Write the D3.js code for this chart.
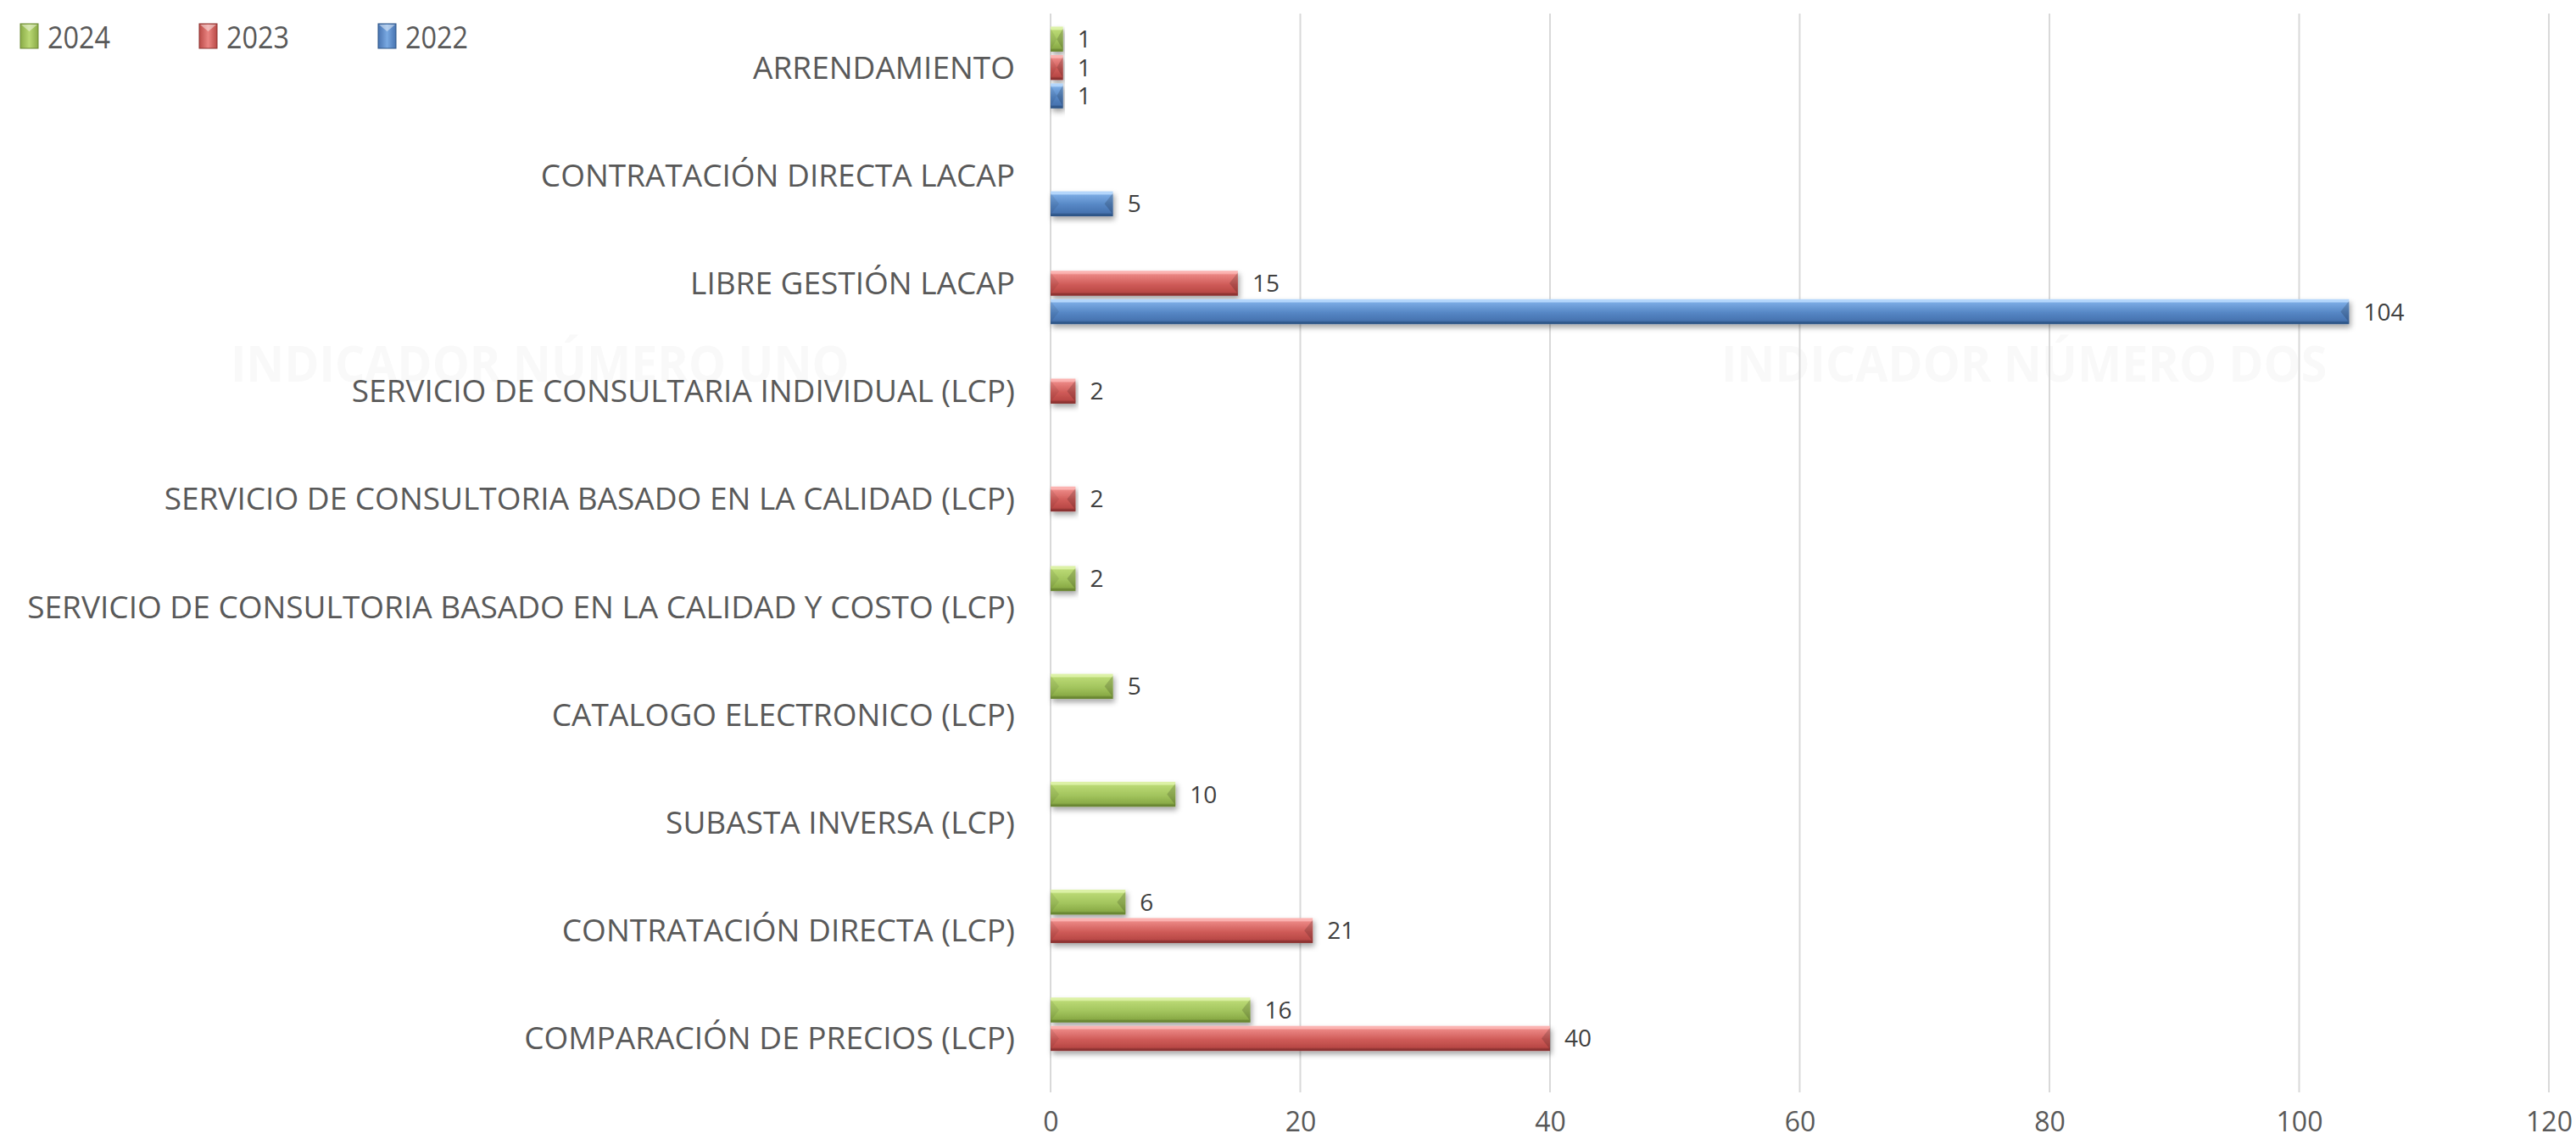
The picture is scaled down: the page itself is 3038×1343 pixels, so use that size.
<!DOCTYPE html>
<html>
<head>
<meta charset="utf-8">
<script src="https://cdn.jsdelivr.net/npm/d3@7"></script>
<style>
  html, body { margin: 0; padding: 0; background: #ffffff; }
  svg { display: block; }
  text { font-family: "Open Sans", "Noto Sans", sans-serif; }
</style>
</head>
<body>
<svg id="chart" width="3038" height="1343"></svg>
<script>
// Procurement modality counts by year
const categories = [
  "ARRENDAMIENTO",
  "CONTRATACIÓN DIRECTA LACAP",
  "LIBRE GESTIÓN LACAP",
  "SERVICIO DE CONSULTARIA INDIVIDUAL (LCP)",
  "SERVICIO DE CONSULTORIA BASADO EN LA CALIDAD (LCP)",
  "SERVICIO DE CONSULTORIA BASADO EN LA CALIDAD Y COSTO (LCP)",
  "CATALOGO ELECTRONICO (LCP)",
  "SUBASTA INVERSA (LCP)",
  "CONTRATACIÓN DIRECTA (LCP)",
  "COMPARACIÓN DE PRECIOS (LCP)"
];
const seriesNames = ["2024", "2023", "2022"];
const values2024 = [1, null, null, null, null, 2, 5, 10, 6, 16];
const values2023 = [1, null, 15, 2, 2, null, null, null, 21, 40];
const values2022 = [1, 5, 104, null, null, null, null, null, null, null];
const xTicks = [0, 20, 40, 60, 80, 100, 120];
const watermarks = ["INDICADOR NÚMERO UNO", "INDICADOR NÚMERO DOS"];

const seriesValues = { "2024": values2024, "2023": values2023, "2022": values2022 };

const palette = {
  "2024": { hi: "#dcf1a6", top: "#b9d873", mid: "#a2c45d", low: "#8aab47", edge: "#6a8733" },
  "2023": { hi: "#fbb3b1", top: "#ea8582", mid: "#cf5b58", low: "#b94946", edge: "#8c3331" },
  "2022": { hi: "#b4d6fb", top: "#79a9e2", mid: "#5586c4", low: "#4773b0", edge: "#2f5688" }
};

const svg = d3.select("#chart");
const plot = { left: 1239, right: 3006, top: 16, bottom: 1288 };

const x = d3.scaleLinear().domain([0, 120]).range([plot.left, plot.right]);
const y0 = d3.scaleBand().domain(categories).range([plot.top, plot.bottom]).paddingInner(0).paddingOuter(0);
const y1 = d3.scaleBand().domain(seriesNames).range([0, y0.bandwidth()]).paddingInner(0.12).paddingOuter(0.46);

const defs = svg.append("defs");

// vertical gradients for the bevelled bars
seriesNames.forEach(s => {
  const c = palette[s];
  const g = defs.append("linearGradient").attr("id", "grad" + s)
    .attr("x1", 0).attr("y1", 0).attr("x2", 0).attr("y2", 1);
  [[0, c.hi], [0.1, c.hi], [0.16, c.top], [0.55, c.mid], [0.86, c.low], [0.93, c.edge], [1, c.edge]]
    .forEach(([o, col]) => g.append("stop").attr("offset", o).attr("stop-color", col));
  const gl = defs.append("linearGradient").attr("id", "lgrad" + s)
    .attr("x1", 0).attr("y1", 0).attr("x2", 1).attr("y2", 0);
  [[0, c.low], [0.5, c.top], [1, c.low]]
    .forEach(([o, col]) => gl.append("stop").attr("offset", o).attr("stop-color", col));
});

const shadow = defs.append("filter").attr("id", "shadow")
  .attr("x", "-5%").attr("y", "-40%").attr("width", "115%").attr("height", "200%");
shadow.append("feDropShadow").attr("dx", 2).attr("dy", 4).attr("stdDeviation", 3)
  .attr("flood-color", "#000").attr("flood-opacity", 0.35);

// faint watermark titles
const wmY = 450;
const wm = svg.append("g").attr("class", "watermarks");
[[watermarks[0], 272], [watermarks[1], 2030]].forEach(([t, x0]) => {
  wm.append("text")
    .attr("transform", `translate(${x0},${wmY}) scale(0.925,1)`)
    .attr("font-size", 60).attr("font-weight", 700)
    .attr("fill", "#f9f9f9")
    .text(t);
});

// vertical gridlines
svg.append("g").attr("class", "grid")
  .selectAll("line").data(xTicks).join("line")
  .attr("x1", d => x(d)).attr("x2", d => x(d))
  .attr("y1", plot.top).attr("y2", plot.bottom)
  .attr("stroke", "#d9d9d9").attr("stroke-width", 2);

// x axis tick labels
const xAxis = d3.axisBottom(x).tickValues(xTicks).tickSize(0).tickPadding(0);
const gx = svg.append("g").attr("transform", `translate(0,${plot.bottom})`).call(xAxis);
gx.select(".domain").remove();
gx.selectAll("text")
  .attr("font-size", 32).attr("fill", "#595959")
  .attr("font-family", "'Open Sans', sans-serif")
  .attr("dy", null).attr("y", 46);

// category labels
const yAxis = d3.axisLeft(y0).tickSize(0).tickPadding(0);
const gy = svg.append("g").attr("transform", `translate(${plot.left - 42},0)`).call(yAxis);
gy.select(".domain").remove();
gy.selectAll("text")
  .attr("font-size", 37).attr("fill", "#595959")
  .attr("font-family", "'Open Sans', sans-serif")
  .attr("dy", "0.35em");

// bars
const barData = [];
categories.forEach((cat, i) => {
  seriesNames.forEach(s => {
    const v = seriesValues[s][i];
    if (v != null) barData.push({ cat, s, v });
  });
});

const bars = svg.append("g").attr("class", "bars")
  .selectAll("g").data(barData).join("g")
  .attr("transform", d => `translate(0,${y0(d.cat) + y1(d.s)})`);

const bh = y1.bandwidth();
bars.each(function(d) {
  const g = d3.select(this);
  const x0 = x(0), x1 = x(d.v), w = x1 - x0;
  const b = Math.min(10, w / 2);
  const body = g.append("g").attr("filter", "url(#shadow)");
  body.append("rect").attr("x", x0).attr("y", 0).attr("width", w).attr("height", bh)
    .attr("fill", `url(#grad${d.s})`);
  // bevelled ends
  body.append("polygon")
    .attr("points", [[x0, 2], [x0 + b, bh / 2], [x0, bh - 2]].map(p => p.join(",")).join(" "))
    .attr("fill", "#000").attr("opacity", 0.07);
  body.append("polygon")
    .attr("points", [[x1, 2], [x1 - b, bh / 2], [x1, bh - 2]].map(p => p.join(",")).join(" "))
    .attr("fill", "#000").attr("opacity", 0.16);
});

// value labels
svg.append("g").attr("class", "labels")
  .selectAll("text").data(barData).join("text")
  .attr("x", d => x(d.v) + 17)
  .attr("y", d => y0(d.cat) + y1(d.s) + bh / 2)
  .attr("dy", "0.36em")
  .attr("font-size", 28).attr("fill", "#404040")
  .text(d => d.v);

// legend
const legend = svg.append("g").attr("class", "legend")
  .selectAll("g").data(seriesNames).join("g")
  .attr("transform", (d, i) => `translate(${24 + i * 211},28)`);
legend.append("rect").attr("width", 21).attr("height", 29)
  .attr("fill", d => `url(#lgrad${d})`)
  .attr("stroke", d => palette[d].edge).attr("stroke-width", 1);
legend.append("polygon")
  .attr("points", "1,1 20,1 10.5,9")
  .attr("fill", "#fff").attr("opacity", 0.45);
legend.append("text")
  .attr("x", 32).attr("y", 29)
  .attr("font-size", 36).attr("fill", "#595959")
  .attr("transform", "translate(32,0) scale(0.9,1) translate(-32,0)")
  .text(d => d);
</script>
</body>
</html>
